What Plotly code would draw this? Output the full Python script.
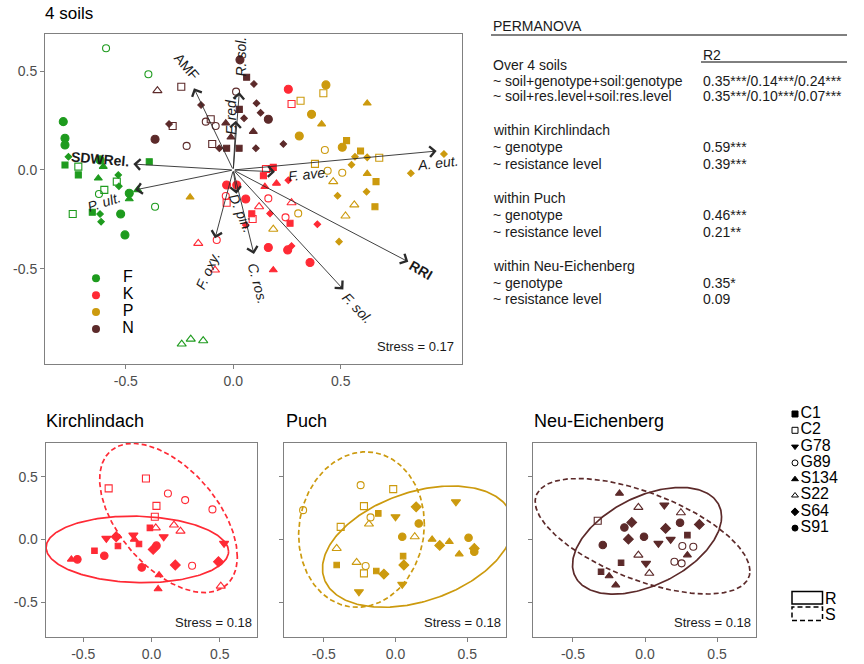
import numpy as np
import plotly.graph_objects as go

FONT = "Liberation Sans, Arial, Helvetica, sans-serif"
W, H = 864, 664

# ---------------------------------------------------------------- data
soils = ["F", "K", "P", "N"]
soil_colors = ["#1E9B1E", "#FF2A35", "#CC9A0E", "#5C2A2A"]

genotypes = ["C1", "C2", "G78", "G89", "S134", "S22", "S64", "S91"]
genotype_symbols = ["square", "square-open", "triangle-down", "circle-open",
                    "triangle-up", "triangle-up-open", "diamond", "circle"]

# NMDS scores over all four soils
F_x = [-0.592, -0.395, -0.791, -0.783, -0.783, -0.767, -0.783, -0.721, -0.721, -0.391,
       -0.620, -0.605, -0.628, -0.535, -0.542, -0.532, -0.600, -0.625, -0.484, -0.445,
       -0.484, -0.747, -0.656, -0.620, -0.615, -0.524, -0.504, -0.364, -0.240, -0.198, -0.140]
F_y = [0.617, 0.485, 0.245, 0.161, 0.127, 0.067, 0.025, 0.017, -0.025, 0.042,
       0.051, 0.017, -0.042, -0.025, -0.059, -0.082, -0.101, -0.122, -0.118, -0.101,
       -0.147, -0.223, -0.214, -0.223, -0.262, -0.223, -0.329, -0.186, -0.882, -0.857, -0.865]
F_g = ["G89", "G89", "S91", "S91", "S91", "S64", "C1", "C2", "C1", "C1",
       "S91", "S134", "S134", "S64", "C2", "S64", "C2", "G89", "S91", "S134",
       "S134", "C2", "C1", "S64", "S64", "S91", "S91", "G89", "S22", "S22", "S22"]

K_x = [0.256, 0.271, 0.152, 0.186, 0.140, 0.147, 0.201, 0.256, -0.031, 0.016,
       -0.035, -0.031, 0.058, -0.163, -0.077, -0.085, 0.086, 0.090, 0.058, 0.120,
       0.163, 0.171, 0.271, 0.243, 0.264, 0.391, 0.163, 0.253, 0.271, 0.357, 0.186]
K_y = [0.409, 0.334, 0.005, 0.013, -0.029, -0.085, -0.068, -0.052, -0.076, -0.076,
       -0.132, -0.166, -0.147, -0.372, -0.355, -0.507, -0.222, -0.248, -0.279, -0.186,
       -0.144, -0.220, -0.166, -0.240, -0.270, -0.275, -0.393, -0.405, -0.385, -0.469, -0.507]
K_g = ["S91", "C2", "C2", "C1", "C1", "S134", "S134", "S64", "S91", "S91",
       "G89", "C2", "S91", "S22", "G89", "S22", "C1", "C2", "S64", "S22",
       "G89", "S64", "S22", "G89", "C1", "S64", "S91", "S91", "S64", "S91", "S134"]

P_x = [0.431, 0.419, 0.313, 0.623, 0.364, 0.411, 0.307, 0.426, 0.507, 0.527,
       0.592, 0.566, 0.623, 0.679, 0.380, 0.550, 0.439, 0.507, 0.465, 0.623,
       0.664, 0.980, 0.826, 0.485, 0.620, 0.563, 0.659, 0.522, 0.302, 0.492, -0.201, 0.186]
P_y = [0.431, 0.389, 0.351, 0.338, 0.282, 0.232, 0.172, 0.101, 0.115, 0.149,
       0.096, 0.067, 0.064, 0.062, 0.031, 0.027, -0.004, -0.014, -0.059, -0.019,
       -0.059, 0.081, -0.017, -0.131, -0.110, -0.177, -0.186, -0.233, -0.220, -0.363, -0.138, -0.300]
P_g = ["S91", "C2", "C2", "S134", "S91", "S134", "S91", "G89", "S91", "C1",
       "C1", "S64", "S64", "C2", "C2", "S64", "G89", "G89", "S22", "S134",
       "C1", "S64", "S64", "S64", "S64", "S22", "C1", "S22", "G89", "S64", "S134", "S22"]

N_x = [-0.353, -0.242, -0.150, -0.299, -0.282, -0.364, -0.128, -0.105, -0.082, -0.217,
       -0.098, -0.035, -0.011, -0.031, 0.027, -0.065, 0.031, 0.062, 0.013, 0.108,
       0.028, 0.050, 0.096, 0.127, 0.163, 0.093, 0.105, 0.233]
N_y = [0.402, 0.422, 0.329, 0.233, 0.223, 0.156, 0.245, 0.257, 0.223, 0.122,
       0.132, 0.237, 0.166, 0.110, 0.110, 0.110, 0.558, 0.470, 0.397, 0.338,
       0.307, 0.262, 0.436, 0.290, 0.257, 0.194, 0.110, 0.132]
N_g = ["S22", "C2", "S64", "S64", "C2", "S91", "G89", "C2", "G89", "G89",
       "C2", "S134", "S134", "C1", "C1", "S64", "S91", "C1", "G89", "S64",
       "C1", "S64", "S64", "S64", "S91", "S134", "S64", "S64"]

# fitted environmental vectors
env_names = ["AMF", "R. sol.", "F. red.", "SDWRel.", "P. ult.", "A. eut.",
             "F. ave.", "RRI", "F. sol.", "C. ros.", "D. pin.", "F. oxy."]
env_x = [-0.183, 0.028, 0.012, -0.465, -0.457, 0.946, 0.194, 0.814, 0.512, 0.096, 0.015, -0.085]
env_y = [0.414, 0.395, 0.250, 0.030, -0.101, 0.096, -0.009, -0.465, -0.605, -0.426, -0.120, -0.346]
env_style = ["plain", "italic", "italic", "bold", "italic", "italic",
             "italic", "bold", "italic", "italic", "italic", "italic"]

# NMDS within each soil
site_names = ["Kirchlindach", "Puch", "Neu-Eichenberg"]
site_soils = ["K", "P", "N"]

KL_x = [-0.314, -0.041, 0.120, 0.246, 0.036, 0.446, 0.024, -0.012, 0.031, 0.164,
        0.212, -0.331, -0.259, -0.133, -0.246, -0.126, -0.092, 0.089, 0.036, 0.012,
        -0.418, -0.346, -0.587, -0.543, -0.072, 0.174, 0.297, 0.055, 0.048, 0.531, 0.490, 0.507]
KL_y = [0.406, 0.485, 0.366, 0.313, 0.267, 0.239, 0.180, 0.092, 0.092, 0.114,
        0.066, 0.008, 0.021, 0.034, -0.053, 0.000, -0.037, 0.021, -0.050, -0.080,
        -0.091, -0.130, -0.159, -0.159, -0.223, -0.204, -0.210, -0.284, -0.395, -0.032, -0.178, -0.372]
KL_g = ["C2", "C2", "G89", "G89", "C2", "G89", "C2", "C1", "S22", "S22",
        "S22", "G78", "S64", "G78", "C1", "S134", "C1", "G78", "S91", "S64",
        "C1", "S91", "S134", "S91", "S91", "S64", "G89", "S134", "S134", "G78", "S64", "S22"]

PU_x = [-0.644, -0.243, -0.016, -0.220, -0.120, -0.174, -0.185, -0.382, 0.000, 0.144,
        0.162, 0.421, 0.047, 0.134, 0.255, 0.308, 0.375, 0.509, 0.444, 0.549,
        0.549, -0.410, -0.410, -0.271, -0.208, -0.220, -0.134, -0.081, 0.053, 0.058, -0.255, 0.047]
PU_y = [0.233, 0.432, 0.400, 0.265, 0.207, 0.175, 0.122, 0.100, 0.180, 0.259,
        0.127, 0.299, 0.021, 0.021, 0.000, -0.048, -0.019, 0.013, -0.117, -0.072,
        -0.099, -0.072, -0.204, -0.183, -0.212, -0.271, -0.252, -0.276, -0.133, -0.204, -0.417, -0.358]
PU_g = ["G89", "G89", "C2", "C2", "C1", "G89", "S22", "C2", "G78", "S64",
        "S91", "G78", "S91", "S22", "S134", "S64", "S134", "S91", "S134", "S64",
        "S91", "S22", "C1", "S22", "G89", "C2", "C1", "S64", "C1", "S64", "G78", "G78"]

NE_x = [-0.177, -0.328, -0.046, 0.134, 0.249, -0.092, -0.143, 0.243, 0.377, 0.143,
        0.294, -0.115, -0.007, 0.093, 0.178, -0.293, 0.259, 0.335, -0.046, 0.007,
        -0.166, 0.204, 0.254, 0.294, 0.030, -0.305, -0.249, -0.203]
NE_y = [0.366, 0.148, 0.255, 0.273, 0.212, 0.135, 0.095, 0.132, 0.119, 0.087,
        0.034, 0.002, 0.021, -0.032, 0.000, -0.045, -0.053, -0.059, -0.125, -0.191,
        -0.186, -0.178, -0.191, -0.125, -0.270, -0.258, -0.292, -0.364]
NE_g = ["S134", "C2", "S22", "G78", "S22", "S64", "S91", "S91", "S64", "S64",
        "C1", "S64", "S91", "G78", "G78", "S91", "G89", "G89", "S22", "G78",
        "C1", "G89", "G89", "S134", "S22", "C1", "S134", "S134"]

# resistance-level ellipses: [centre x, centre y, half width, half height, correlation]
res_groups = ["R", "S"]
KL_ell_R = [-0.104, -0.080, 0.668, 0.265, -0.06]
KL_ell_S = [0.124, 0.170, 0.504, 0.594, -0.52]
PU_ell_R = [0.155, -0.058, 0.664, 0.483, 0.36]
PU_ell_S = [-0.237, 0.078, 0.438, 0.619, 0.07]
NE_ell_R = [0.014, -0.011, 0.517, 0.425, 0.45]
NE_ell_S = [-0.017, 0.025, 0.745, 0.460, -0.60]

stress_values = ["0.17", "0.18", "0.18", "0.18"]

tick_vals = [-0.5, 0.0, 0.5]
tick_text = ["-0.5", "0.0", "0.5"]

perm_title = "PERMANOVA"
perm_header = "R2"
perm_labels = ["Over 4 soils", "~ soil+genotype+soil:genotype", "~ soil+res.level+soil:res.level",
               "within Kirchlindach", "~ genotype", "~ resistance level",
               "within Puch", "~ genotype", "~ resistance level",
               "within Neu-Eichenberg", "~ genotype", "~ resistance level"]
perm_values = ["", "0.35***/0.14***/0.24***", "0.35***/0.10***/0.07***",
               "", "0.59***", "0.39***",
               "", "0.46***", "0.21**",
               "", "0.35*", "0.09"]

# ---------------------------------------------------------------- styling / layout helpers
top_sizes = [6, 7, 8, 7, 7, 8, 5, 8]
panel_sizes = [5.5, 7, 8, 7, 7, 8, 7.5, 7.5]
res_dash = ["solid", "5px,3px"]

# vector label placement (data units) and rotation
lab_x = [-0.214, 0.034, -0.011, -0.620, -0.601, 0.951, 0.352, 0.872, 0.577, 0.112, 0.036, -0.121]
lab_y = [0.524, 0.573, 0.279, 0.054, -0.161, 0.034, -0.020, -0.507, -0.701, -0.574, -0.218, -0.510]
lab_angle = [49, -90, -90, 5, -18, -7, -6, 30, 46, 75, 67, -66]

# table row centres (pixels from top)
perm_row_px = [65, 81, 96, 130, 147.3, 164, 198.3, 215, 231.7, 266, 283.3, 299.3]


def fx(p):
    return p / W


def fy(p):
    return 1 - p / H


def ellipse(cx, cy, sx, sy, rho, n=240):
    t = np.linspace(0, 2 * np.pi, n)
    x = cx + sx * np.cos(t)
    y = cy + sy * (rho * np.cos(t) + np.sqrt(1 - rho ** 2) * np.sin(t))
    return x, y


sym_of = dict(zip(genotypes, genotype_symbols))
size_top = dict(zip(genotypes, top_sizes))
size_panel = dict(zip(genotypes, panel_sizes))
color_of = dict(zip(soils, soil_colors))

fig = go.Figure()

# ---------------------------------------------------------------- overall NMDS
for s, xs, ys, gs in [("F", F_x, F_y, F_g), ("K", K_x, K_y, K_g),
                      ("P", P_x, P_y, P_g), ("N", N_x, N_y, N_g)]:
    fig.add_trace(go.Scatter(
        x=xs, y=ys, mode="markers", xaxis="x", yaxis="y",
        marker=dict(symbol=[sym_of[g] for g in gs], size=[size_top[g] for g in gs],
                    color=color_of[s], opacity=1, line=dict(color=color_of[s], width=1.1)),
        hoverinfo="skip", showlegend=False))

# ---------------------------------------------------------------- per-soil NMDS
panel_sets = [(KL_x, KL_y, KL_g, KL_ell_R, KL_ell_S),
              (PU_x, PU_y, PU_g, PU_ell_R, PU_ell_S),
              (NE_x, NE_y, NE_g, NE_ell_R, NE_ell_S)]
for i, (xs, ys, gs, ell_r, ell_s) in enumerate(panel_sets):
    col = color_of[site_soils[i]]
    xa, ya = f"x{i + 2}", f"y{i + 2}"
    for params, dash in zip([ell_r, ell_s], res_dash):
        ex, ey = ellipse(*params)
        fig.add_trace(go.Scatter(x=ex, y=ey, mode="lines", xaxis=xa, yaxis=ya,
                                 line=dict(color=col, width=1.7, dash=dash),
                                 hoverinfo="skip", showlegend=False))
    fig.add_trace(go.Scatter(
        x=xs, y=ys, mode="markers", xaxis=xa, yaxis=ya,
        marker=dict(symbol=[sym_of[g] for g in gs], size=[size_panel[g] for g in gs],
                    color=col, opacity=1, line=dict(color=col, width=1.1)),
        hoverinfo="skip", showlegend=False))

# ---------------------------------------------------------------- legends
# genotype key
fig.add_trace(go.Scatter(x=[0] * len(genotypes), y=genotypes, mode="markers",
                         xaxis="x5", yaxis="y5",
                         marker=dict(symbol=genotype_symbols, size=6, color="black",
                                     opacity=1, line=dict(color="black", width=1)),
                         hoverinfo="skip", showlegend=False))
fig.add_trace(go.Scatter(x=[0.55] * len(genotypes), y=genotypes, mode="text",
                         text=genotypes, textposition="middle right",
                         textfont=dict(family=FONT, size=16, color="black"),
                         xaxis="x5", yaxis="y5", hoverinfo="skip", showlegend=False))
# soil key
fig.add_trace(go.Scatter(x=[0] * len(soils), y=soils, mode="markers",
                         xaxis="x6", yaxis="y6",
                         marker=dict(symbol="circle", size=8, color=soil_colors, opacity=1),
                         hoverinfo="skip", showlegend=False))
fig.add_trace(go.Scatter(x=[3.2] * len(soils), y=soils, mode="text", text=soils,
                         textposition="middle center",
                         textfont=dict(family=FONT, size=16, color="black"),
                         xaxis="x6", yaxis="y6", hoverinfo="skip", showlegend=False))

# ---------------------------------------------------------------- annotations
ann = []
for name, ex, ey, st, lx, ly, la in zip(env_names, env_x, env_y, env_style,
                                         lab_x, lab_y, lab_angle):
    ann.append(dict(x=ex, y=ey, ax=0, ay=0, xref="x", yref="y", axref="x", ayref="y",
                    text="", showarrow=True, arrowhead=4, arrowsize=2.3,
                    arrowwidth=0.9, arrowcolor="#2b2b2b", standoff=0))
    txt = {"plain": name, "italic": f"<i>{name}</i>", "bold": f"<b>{name}</b>"}[st]
    ann.append(dict(x=lx, y=ly, xref="x", yref="y", text=txt, showarrow=False,
                    textangle=la, xanchor="center", yanchor="middle",
                    font=dict(family=FONT, size=14, color="#1a1a1a")))

for k, sv in enumerate(stress_values):
    suffix = "" if k == 0 else str(k + 1)
    ann.append(dict(x=0.985, y=0.025, xref=f"x{suffix} domain", yref=f"y{suffix} domain",
                    text=f"Stress = {sv}", showarrow=False, xanchor="right",
                    yanchor="bottom", font=dict(family=FONT, size=13, color="#1a1a1a")))

ann.append(dict(x=fx(43), y=fy(13), xref="paper", yref="paper", text="4 soils",
                showarrow=False, xanchor="left", yanchor="middle",
                font=dict(family=FONT, size=17, color="black")))
for name, px in zip(site_names, [44, 284, 532]):
    ann.append(dict(x=fx(px), y=fy(421), xref="paper", yref="paper", text=name,
                    showarrow=False, xanchor="left", yanchor="middle",
                    font=dict(family=FONT, size=18, color="black")))

# PERMANOVA table
tfont = dict(family=FONT, size=14, color="#1a1a1a")
ann.append(dict(x=fx(491), y=fy(26.5), xref="paper", yref="paper", text=perm_title,
                showarrow=False, xanchor="left", yanchor="middle", font=tfont))
ann.append(dict(x=fx(701), y=fy(54.5), xref="paper", yref="paper", text=perm_header,
                showarrow=False, xanchor="left", yanchor="middle", font=tfont))
for lab, val, py in zip(perm_labels, perm_values, perm_row_px):
    ann.append(dict(x=fx(491), y=fy(py), xref="paper", yref="paper", text=lab,
                    showarrow=False, xanchor="left", yanchor="middle", font=tfont))
    if val:
        ann.append(dict(x=fx(701), y=fy(py), xref="paper", yref="paper", text=val,
                        showarrow=False, xanchor="left", yanchor="middle", font=tfont))

# resistance-level key labels
for grp, py in zip(res_groups, [598, 614]):
    ann.append(dict(x=fx(823), y=fy(py), xref="paper", yref="paper", text=grp,
                    showarrow=False, xanchor="left", yanchor="middle",
                    font=dict(family=FONT, size=16, color="black")))

shapes = [
    dict(type="line", xref="paper", yref="paper", x0=fx(491), x1=fx(847),
         y0=fy(35), y1=fy(35), line=dict(color="black", width=1)),
    dict(type="line", xref="paper", yref="paper", x0=fx(701), x1=fx(847),
         y0=fy(62), y1=fy(62), line=dict(color="black", width=1)),
]
for (y0, y1), dash in zip([(591.5, 604), (607, 620.5)], res_dash):
    shapes.append(dict(type="rect", xref="paper", yref="paper", x0=fx(792), x1=fx(822.5),
                       y0=fy(y1), y1=fy(y0), line=dict(color="black", width=1.5, dash=dash),
                       fillcolor="rgba(0,0,0,0)"))

# ---------------------------------------------------------------- axes
def frame_axis(domain, rng, anchor, labels=True):
    return dict(domain=domain, range=rng, anchor=anchor, showline=True, mirror=True,
                linecolor="#808080", linewidth=1, ticks="outside", ticklen=4,
                tickcolor="#808080", tickwidth=1, showgrid=False, zeroline=False,
                tickvals=tick_vals, ticktext=tick_text, showticklabels=labels,
                tickfont=dict(family=FONT, size=14, color="#4d4d4d"), fixedrange=True)


panel_y_dom = [fy(636.7), fy(442.7)]
layout_axes = dict(
    xaxis=frame_axis([fx(45), fx(462)], [-0.876, 1.064], "y"),
    yaxis=frame_axis([fy(364), fy(34)], [-0.983, 0.689], "x"),
    xaxis2=frame_axis([fx(45.7), fx(256.7)], [-0.775, 0.77], "y2"),
    yaxis2=frame_axis(panel_y_dom, [-0.775, 0.77], "x2"),
    xaxis3=frame_axis([fx(284.3), fx(506)], [-0.775, 0.77], "y3"),
    yaxis3=frame_axis(panel_y_dom, [-0.775, 0.77], "x3", labels=False),
    xaxis4=frame_axis([fx(533.3), fx(756)], [-0.775, 0.77], "y4"),
    yaxis4=frame_axis(panel_y_dom, [-0.775, 0.77], "x4", labels=False),
    xaxis5=dict(domain=[fx(785), fx(860)], range=[-1, 6.5], anchor="y5", visible=False,
                fixedrange=True),
    yaxis5=dict(domain=[fy(536.25), fy(405.85)], type="category", categoryorder="array",
                categoryarray=genotypes, range=[7.5, -0.5], anchor="x5", visible=False,
                fixedrange=True),
    xaxis6=dict(domain=[fx(86), fx(140)], range=[-1, 4.4], anchor="y6", visible=False,
                fixedrange=True),
    yaxis6=dict(domain=[fy(337.45), fy(269.85)], type="category", categoryorder="array",
                categoryarray=soils, range=[3.5, -0.5], anchor="x6", visible=False,
                fixedrange=True),
)

fig.update_layout(
    width=W, height=H, margin=dict(l=0, r=0, t=0, b=0),
    paper_bgcolor="white", plot_bgcolor="rgba(0,0,0,0)",
    font=dict(family=FONT), showlegend=False,
    annotations=ann, shapes=shapes, **layout_axes)

fig.write_html("out.html")
